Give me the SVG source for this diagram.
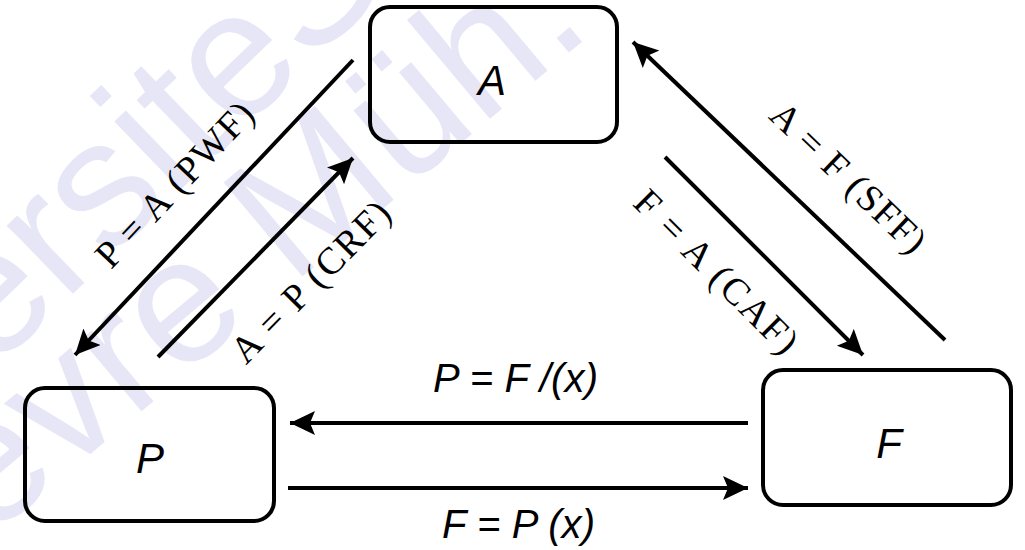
<svg xmlns="http://www.w3.org/2000/svg" width="1025" height="550" viewBox="0 0 1025 550">
  <style>
    .box { fill: none; stroke: #000; stroke-width: 4; }
    .lbl { font-family: "Liberation Sans", Arial, sans-serif; font-style: italic; fill: #000; }
    .rel { font-family: "Liberation Serif", "Times New Roman", serif; font-size: 38px; fill: #000; text-anchor: middle; }
    .wm { font-family: "Liberation Sans", Arial, sans-serif; fill: #e6e6f6; }
    .conn { stroke: #000; stroke-width: 4; fill: none; }
  </style>
  <defs>
    <marker id="head" markerUnits="userSpaceOnUse" markerWidth="28" markerHeight="26" refX="25" refY="12" orient="auto">
      <path d="M0,0 L25,12 L0,24 L5,12 z" fill="#000"/>
    </marker>
  </defs>
  <rect width="1025" height="550" fill="#fff"/>

  <!-- faint background lettering -->
  <g id="watermark" class="wm">
    <text transform="translate(-8,372) rotate(-44)" font-size="180">ersiteS</text>
    <text transform="translate(-12,540) rotate(-40)" font-size="178">evre Müh.</text>
  </g>

  <!-- connectors -->
  <g id="connectors">
    <path class="conn" d="M353,60 L75,355" marker-end="url(#head)"/>
    <path class="conn" d="M158,357 L353,158" marker-end="url(#head)"/>
    <path class="conn" d="M945,340 L633,42" marker-end="url(#head)"/>
    <path class="conn" d="M665,157 L863,355" marker-end="url(#head)"/>
    <path class="conn" d="M748,423 L290,423" marker-end="url(#head)"/>
    <path class="conn" d="M288,488 L748,488" marker-end="url(#head)"/>
  </g>

  <!-- connector labels -->
  <g id="labels">
    <text class="rel" transform="translate(175,185) rotate(-46.7)" y="12" textLength="212" lengthAdjust="spacing">P = A (PWF)</text>
    <text class="rel" transform="translate(311,282) rotate(-45.6)" y="12" textLength="210" lengthAdjust="spacing">A = P (CRF)</text>
    <text class="rel" transform="translate(716,272) rotate(45)" y="12" textLength="215" lengthAdjust="spacing">F = A (CAF)</text>
    <text class="rel" transform="translate(848,178) rotate(43.7)" y="12" textLength="200" lengthAdjust="spacing">A = F (SFF)</text>
    <text class="lbl" x="433" y="392" font-size="40" textLength="165" lengthAdjust="spacing">P = F /(x)</text>
    <text class="lbl" x="442" y="538" font-size="40" textLength="153" lengthAdjust="spacing">F = P (x)</text>
  </g>

  <g id="node-A">
    <rect class="box" x="370" y="7" width="247" height="135" rx="20"/>
    <text class="lbl" x="492" y="95" font-size="42" text-anchor="middle">A</text>
  </g>
  <g id="node-P">
    <rect class="box" x="25" y="388" width="249" height="133" rx="20"/>
    <text class="lbl" x="150" y="473" font-size="42" text-anchor="middle">P</text>
  </g>
  <g id="node-F">
    <rect class="box" x="763" y="370" width="248" height="135" rx="20"/>
    <text class="lbl" x="889" y="458" font-size="42" text-anchor="middle">F</text>
  </g>
</svg>
